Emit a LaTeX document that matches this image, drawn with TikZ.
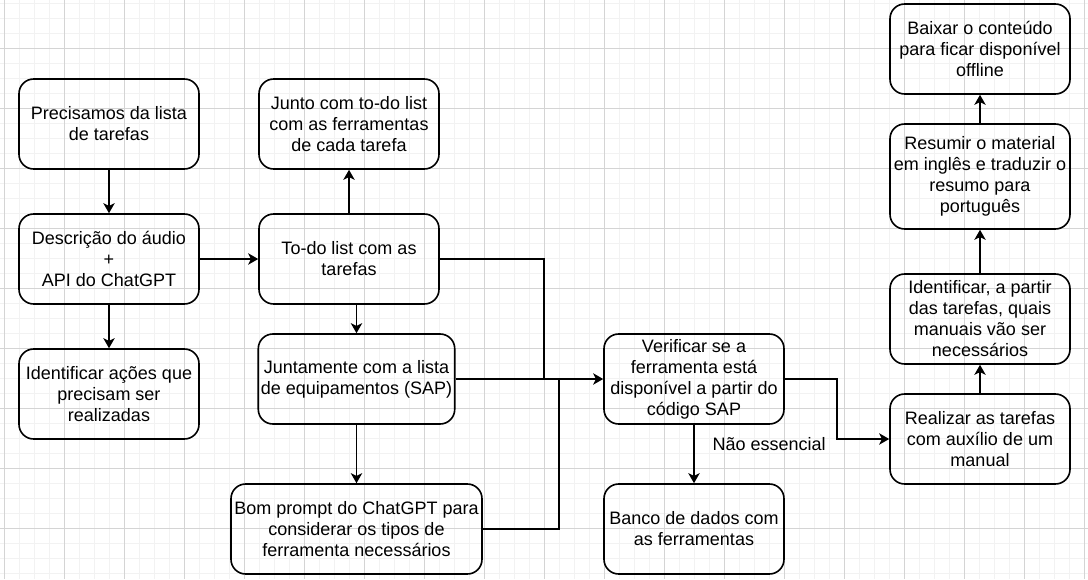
\documentclass[tikz,border=0pt]{standalone}
\usepackage{fontspec}
\setmainfont{Liberation Sans}
\usetikzlibrary{arrows.meta}
\definecolor{gridminor}{HTML}{F2F2F2}
\definecolor{gridmajor}{HTML}{D4D4D4}
\tikzset{
	box/.style={draw, line width=1.2pt, rounded corners=11pt, align=center,
		minimum width=135pt, minimum height=67.5pt, inner sep=2pt,
		font=\fontsize{13.5pt}{15.75pt}\selectfont},
	link/.style={line width=1.2pt},
	arr/.style={link, -{Stealth[length=7.5pt,width=8.5pt,inset=2pt]}}
}

\begin{document}
\begin{tikzpicture}[x=0.75pt,y=-0.75pt]
		\useasboundingbox (0,0) rectangle (1088,579);
		\fill[white] (0,0) rectangle (1088,579);
		\foreach \g in {4,19,...,1088} \draw[gridminor,line width=0.6pt] (\g,0)--(\g,579);
		\foreach \g in {3,18,...,579} \draw[gridminor,line width=0.6pt] (0,\g)--(1088,\g);
		\foreach \g in {4,64,...,1088} \draw[gridmajor,line width=0.6pt] (\g,0)--(\g,579);
		\foreach \g in {48,108,...,579} \draw[gridmajor,line width=0.6pt] (0,\g)--(1088,\g);

		\node[box] (need) at (109,124) {Precisamos da lista\\de tarefas};
		\node[box] (descr) at (109,259) {Descrição do áudio\\+\\API do ChatGPT};
		\node[box] (acoes) at (109,394) {Identificar ações que\\precisam ser\\realizadas};
		\node[box] (junto) at (349,124) {Junto com to-do list\\com as ferramentas\\de cada tarefa};
		\node[box] (todo) at (349,259) {To-do list com as\\tarefas};
		\node[box,minimum width=146.25pt] (equip) at (356.5,379) {Juntamente com a lista\\de equipamentos (SAP)};
		\node[box,minimum width=188.25pt] (prompt) at (356.5,529) {Bom prompt do ChatGPT para\\considerar os tipos de\\ferramenta necessários};
		\node[box] (verif) at (694,379) {Verificar se a\\ferramenta está\\disponível a partir do\\código SAP};
		\node[box] (banco) at (694,529) {Banco de dados com\\as ferramentas};
		\node[box] (realiz) at (980,439) {Realizar as tarefas\\com auxílio de um\\manual};
		\node[box] (ident) at (980,319) {Identificar, a partir\\das tarefas, quais\\manuais vão ser\\necessários};
		\node[box,minimum height=78.75pt] (resum) at (980,176.5) {Resumir o material\\em inglês e traduzir o\\resumo para\\português};
		\node[box] (baixar) at (980,49) {Baixar o conteúdo\\para ficar disponível\\offline};

		\coordinate (mergeA) at (544,379);
		\coordinate (mergeB) at (559,379);
		\coordinate (bendR) at (837,439);

		\draw[arr] (need)--(descr);
		\draw[arr] (descr)--(acoes);
		\draw[arr] (descr)--(todo);
		\draw[arr] (todo)--(junto);
		\draw[arr] (todo.south -| equip.north)--(equip.north);
		\draw[arr] (equip)--(prompt);
		\draw[link] (todo.east) -| (mergeA);
		\draw[link] (prompt.east) -| (mergeB);
		\draw[arr] (equip.east)--(verif.west);
		\draw[arr] (verif)--(banco) node[pos=0.33,anchor=west,xshift=10pt,font=\fontsize{13.5pt}{15.75pt}\selectfont]{Não essencial};
		\draw[arr] (verif.east) -| (bendR)--(realiz.west);
		\draw[arr] (realiz)--(ident);
		\draw[arr] (ident)--(resum);
		\draw[arr] (resum)--(baixar);
	\end{tikzpicture}
\end{document}
